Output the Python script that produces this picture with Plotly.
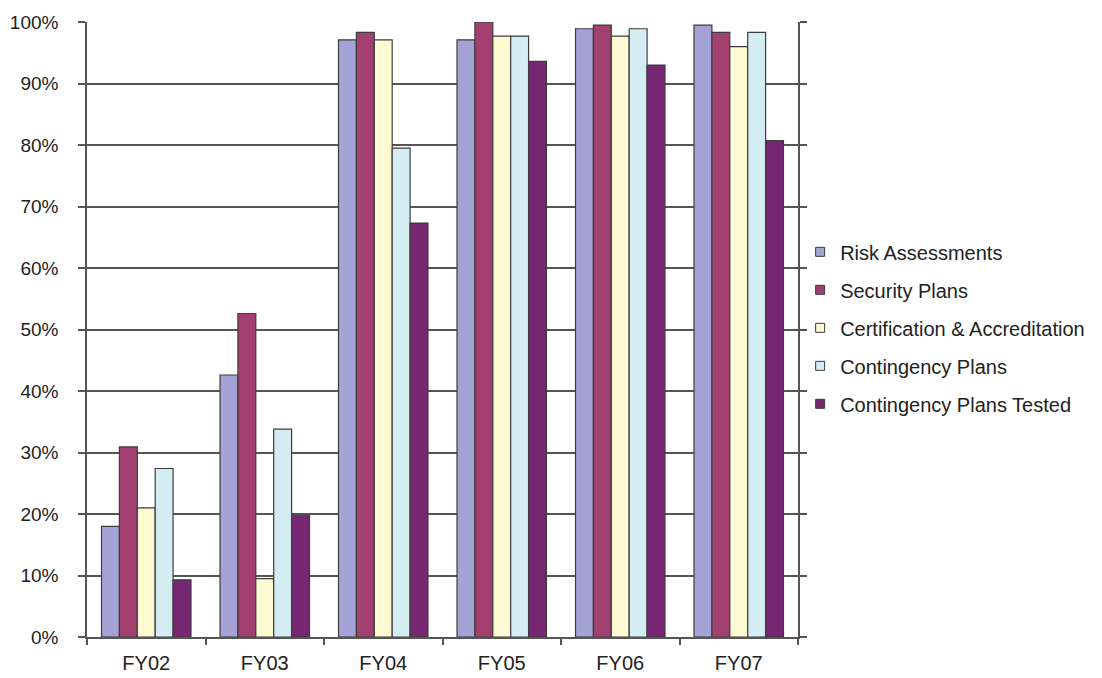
import plotly.graph_objects as go

# Fiscal years on the category axis
years = ["FY02", "FY03", "FY04", "FY05", "FY06", "FY07"]

# Percent of systems meeting each security measure
risk_assessments = [18.0, 42.6, 97.1, 97.1, 98.9, 99.5]
security_plans = [30.9, 52.6, 98.3, 100.0, 99.5, 98.3]
certification_accreditation = [21.0, 9.5, 97.1, 97.7, 97.7, 96.0]
contingency_plans = [27.4, 33.8, 79.5, 97.7, 98.9, 98.3]
contingency_plans_tested = [9.3, 19.8, 67.3, 93.6, 93.0, 80.7]

series_names = [
    "Risk Assessments",
    "Security Plans",
    "Certification & Accreditation",
    "Contingency Plans",
    "Contingency Plans Tested",
]
series_values = [
    risk_assessments,
    security_plans,
    certification_accreditation,
    contingency_plans,
    contingency_plans_tested,
]
series_colors = ["#A3A3D6", "#A2416F", "#FCF9D3", "#D4EDF3", "#772672"]

FONT = "Liberation Sans, Arial, sans-serif"
INK = "#222222"
EDGE = "#3c3c3c"

fig = go.Figure()

for name, vals, color in zip(series_names, series_values, series_colors):
    fig.add_trace(go.Bar(
        x=years, y=vals, name=name,
        marker=dict(color=color, line=dict(color=EDGE, width=1.2)),
        showlegend=False,
    ))

# Small square swatches for the legend
for i, (name, color) in enumerate(zip(series_names, series_colors)):
    fig.add_trace(go.Scatter(
        x=[None], y=[None], mode="markers", name=name,
        legendgroup=f"g{i}",
        marker=dict(symbol="square", size=9, color=color,
                    line=dict(color=EDGE, width=1)),
    ))

fig.update_layout(
    width=1102, height=678,
    margin=dict(l=87, r=304, t=22, b=41, autoexpand=False),
    paper_bgcolor="white", plot_bgcolor="white",
    barmode="group", bargap=0.245, bargroupgap=0,
    font=dict(family=FONT, size=19, color=INK),
    legend=dict(
        x=1.003, xanchor="left", y=0.658, yanchor="top",
        font=dict(family=FONT, size=20, color=INK),
        tracegroupgap=9, itemwidth=30,
        bgcolor="rgba(0,0,0,0)",
    ),
    xaxis=dict(
        automargin=False,
        showline=True, linecolor="#555555", linewidth=1.5,
        ticks="outside", tickson="boundaries", ticklen=6,
        tickcolor="#555555", tickwidth=1.5,
        showgrid=False, ticklabelstandoff=7,
        tickfont=dict(family=FONT, size=20, color=INK),
    ),
    yaxis=dict(
        automargin=False,
        range=[0, 100], dtick=10, ticksuffix="%",
        showline=True, mirror="ticks", linecolor="#555555", linewidth=1.5,
        ticks="outside", ticklen=7, tickcolor="#555555", tickwidth=1.5,
        showgrid=True, gridcolor="#555555", gridwidth=1.5,
        zeroline=False, ticklabelstandoff=16,
        tickfont=dict(family=FONT, size=19, color=INK),
    ),
)

fig.write_html("out.html")
